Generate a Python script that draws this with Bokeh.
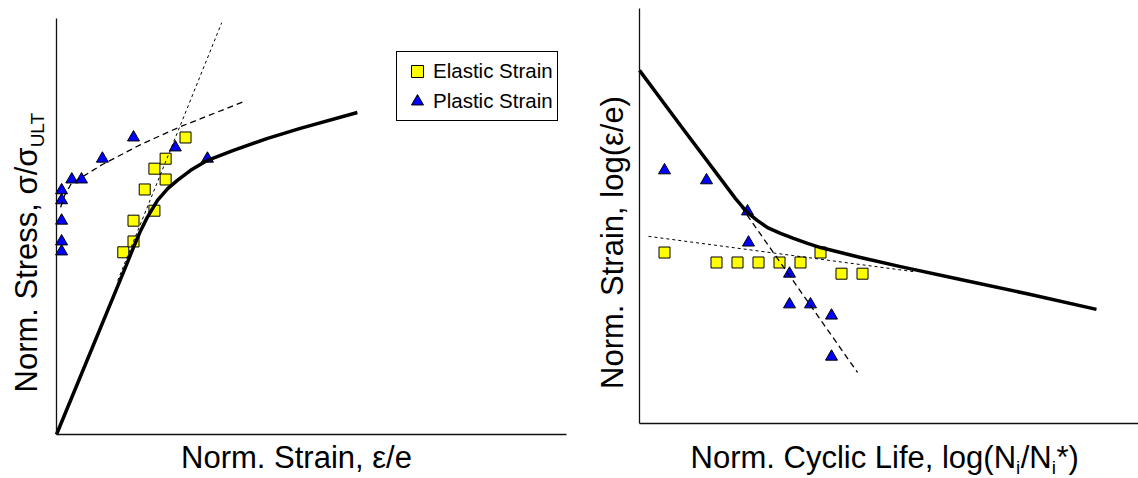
import math
from bokeh.plotting import figure
from bokeh.models import Range1d, FixedTicker, Label, Legend, LegendItem, LinearAxis
from bokeh.layouts import row
from bokeh.embed import file_html
from bokeh.resources import INLINE

FONT = "Liberation Sans"

# ---------------- Left panel: normalized stress vs. normalized strain ----------------
stress_curve_x = [0, 1.35, 1.51, 1.65, 1.78, 1.98, 2.18, 2.37, 2.63, 2.96, 3.47, 4.14, 4.78, 5.90]
stress_curve_y = [0, 4.01, 4.50, 4.90, 5.22, 5.63, 5.91, 6.11, 6.35, 6.59, 6.83, 7.12, 7.36, 7.74]

elastic_x = [1.31, 1.51, 1.51, 1.73, 1.92, 1.92, 2.14, 2.14, 2.53]
elastic_y = [4.38, 4.64, 5.14, 5.89, 5.38, 6.39, 6.63, 6.13, 7.14]

plastic_x = [0.10, 0.10, 0.10, 0.10, 0.10, 0.30, 0.49, 0.90, 1.51, 2.33, 2.96]
plastic_y = [5.87, 5.63, 5.14, 4.64, 4.40, 6.13, 6.13, 6.63, 7.14, 6.90, 6.63]

elastic_fit_x = [1.20, 3.24]
elastic_fit_y = [3.70, 9.90]

plastic_fit_x = [0.08, 0.16, 0.29, 0.90, 1.65, 2.43, 3.67]
plastic_fit_y = [5.46, 5.75, 6.03, 6.49, 6.97, 7.40, 8.00]

# ---------------- Right panel: normalized strain vs. normalized cyclic life ----------------
life_curve_x = [0, 0.82, 1.62, 1.92, 2.16, 2.36, 2.56, 2.82, 3.08, 3.36, 3.62, 4.42, 5.22, 6.42, 7.82, 9.14]
life_curve_y = [8.51, 7.18, 5.90, 5.42, 5.08, 4.89, 4.72, 4.58, 4.46, 4.34, 4.24, 4.00, 3.78, 3.47, 3.11, 2.75]

life_plastic_x = [0.50, 1.34, 2.16, 2.18, 3.00, 3.00, 3.42, 3.84, 3.84]
life_plastic_y = [6.10, 5.86, 5.11, 4.36, 3.61, 2.87, 2.87, 2.60, 1.61]

life_elastic_x = [0.50, 1.54, 1.96, 2.38, 2.80, 3.22, 3.62, 4.04, 4.46]
life_elastic_y = [4.12, 3.88, 3.88, 3.88, 3.88, 3.88, 4.12, 3.61, 3.61]

life_plastic_fit_x = [1.92, 4.36]
life_plastic_fit_y = [5.42, 1.23]

life_elastic_fit_x = [0.18, 5.48]
life_elastic_fit_y = [4.51, 3.66]

legend_labels = ["Elastic Strain", "Plastic Strain"]

YELLOW = "#ffff00"
BLUE = "#0000ff"
MID = 0.35  # offset from alphabetic baseline to text middle, in em


def make_fig(width, xr, yr, xb, yb):
    p = figure(width=width, height=478, x_range=Range1d(*xr), y_range=Range1d(*yr),
               output_backend="svg", toolbar_location=None, title=None,
               x_axis_location=None, y_axis_location=None,
               min_border_left=0, min_border_right=0, min_border_top=0, min_border_bottom=0)
    p.grid.visible = False
    p.outline_line_color = None
    p.background_fill_color = "white"
    p.border_fill_color = "white"
    for side, bnds in (("left", yb), ("below", xb)):
        ax = LinearAxis(fixed_location=0, bounds=bnds, ticker=FixedTicker(ticks=[]),
                        major_label_text_font_size="0px", major_tick_out=0, major_tick_in=0,
                        minor_tick_out=0, minor_tick_in=0, major_label_standoff=0,
                        major_tick_line_color=None, minor_tick_line_color=None,
                        axis_line_color="#111111", axis_line_width=1.3)
        p.add_layout(ax, side)
    return p


def hlab(p, x, baseline, text, size=31, align="left"):
    p.add_layout(Label(x=x, y=baseline + MID * size, x_units="screen", y_units="screen",
                       text=text, text_align=align, text_baseline="middle",
                       text_font=FONT, text_font_size=f"{size}px", text_color="black"))


def vlab(p, baseline, y, text, size=31, align="left"):
    p.add_layout(Label(x=baseline - MID * size, y=y, x_units="screen", y_units="screen",
                       text=text, angle=math.pi / 2, text_align=align, text_baseline="middle",
                       text_font=FONT, text_font_size=f"{size}px", text_color="black"))


# ---------------- Left figure ----------------
p1 = make_fig(590, (-1.098, 10.471), (-1.058, 10.433), (0, 10), (0, 10))

sq1 = p1.scatter(elastic_x, elastic_y, marker="square", size=11, fill_color=YELLOW,
                 line_color="black", line_width=1)
tr1 = p1.scatter(plastic_x, plastic_y, marker="triangle", size=12, fill_color=BLUE,
                 line_color="black", line_width=1)
p1.line(stress_curve_x, stress_curve_y, line_width=3.5, color="black", line_join="round")
p1.line(elastic_fit_x, elastic_fit_y, line_width=1, color="black", line_dash="3 3")
p1.line(plastic_fit_x, plastic_fit_y, line_width=1.3, color="black", line_dash="6 4")

legend = Legend(items=[LegendItem(label=legend_labels[0], renderers=[sq1]),
                       LegendItem(label=legend_labels[1], renderers=[tr1])],
                location=(396, 357), padding=4, spacing=0, margin=0,
                glyph_width=32, glyph_height=30, label_standoff=-5, label_height=20,
                label_text_font=FONT, label_text_font_size="20.5px", label_text_color="black",
                border_line_color="black", border_line_width=1.5, border_line_alpha=1.0,
                background_fill_color="white", background_fill_alpha=1.0)
p1.add_layout(legend)

hlab(p1, 296, 10, "Norm. Strain, ε/e", align="center")
main_w = 7908 * 31 / 1000.0
vlab(p1, 37, 86, "Norm. Stress, σ/σ")
vlab(p1, 44, 86 + main_w, "ULT", size=19)

# ---------------- Right figure ----------------
p2 = make_fig(548, (-0.98, 9.98), (-1.325, 10.193), (0, 9.98), (0, 10.0))

p2.scatter(life_elastic_x, life_elastic_y, marker="square", size=11, fill_color=YELLOW,
           line_color="black", line_width=1)
p2.scatter(life_plastic_x, life_plastic_y, marker="triangle", size=12, fill_color=BLUE,
           line_color="black", line_width=1)
p2.line(life_curve_x, life_curve_y, line_width=3.5, color="black", line_join="round")
p2.line(life_plastic_fit_x, life_plastic_fit_y, line_width=1.3, color="black", line_dash="6 4")
p2.line(life_elastic_fit_x, life_elastic_fit_y, line_width=1, color="black", line_dash="3 3")

vlab(p2, 33, 236, "Norm. Strain, log(ε/e)", align="center")

x0 = 100.0
base_y = 10
sub_y = 4
w_main = 10501 * 31 / 1000.0
w_sub = 222 * 19 / 1000.0 + 0.5
w_slash_n = 1000 * 31 / 1000.0
hlab(p2, x0, base_y, "Norm. Cyclic Life, log(N")
hlab(p2, x0 + w_main, sub_y, "i", size=19)
hlab(p2, x0 + w_main + w_sub, base_y, "/N")
hlab(p2, x0 + w_main + w_sub + w_slash_n, sub_y, "i", size=19)
hlab(p2, x0 + w_main + 2 * w_sub + w_slash_n, base_y, "*)")

layout = row(p1, p2)
open("out.html", "w").write(file_html(layout, INLINE))
